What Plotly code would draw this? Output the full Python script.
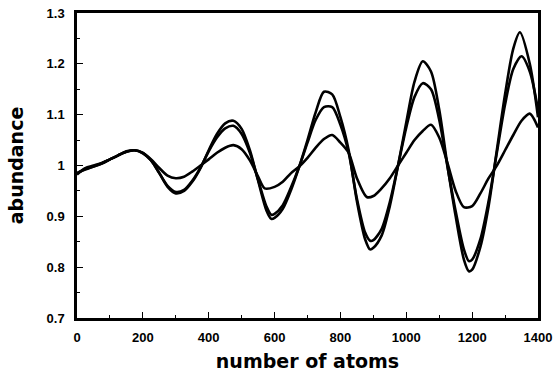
import plotly.graph_objects as go

# number of atoms (sample positions)
atoms_a = [0, 25, 50, 75, 100, 125, 150, 175, 200, 225, 250, 275, 300, 325, 350, 375,
           400, 425, 450, 475, 500, 525, 550, 575, 590, 600, 625, 650, 675, 700, 725,
           750, 775, 800, 825, 850, 875, 890, 900, 925, 950, 975, 1000, 1025, 1050,
           1075, 1100, 1125, 1150, 1175, 1190, 1200, 1225, 1250, 1275, 1300, 1325,
           1345, 1375, 1400]
abund_a = [0.982, 0.995, 1.000, 1.005, 1.012, 1.020, 1.028, 1.030, 1.025, 1.010, 0.985,
           0.958, 0.945, 0.950, 0.968, 0.995, 1.030, 1.062, 1.083, 1.088, 1.072, 1.030,
           0.970, 0.912, 0.895, 0.897, 0.915, 0.952, 0.998, 1.050, 1.105, 1.145, 1.140,
           1.095, 1.030, 0.930, 0.855, 0.835, 0.838, 0.862, 0.920, 1.000, 1.085, 1.165,
           1.205, 1.185, 1.110, 1.000, 0.900, 0.815, 0.792, 0.795, 0.840, 0.920, 1.030,
           1.140, 1.230, 1.262, 1.200, 1.095]

atoms_b = [0, 25, 50, 75, 100, 125, 150, 175, 200, 225, 250, 275, 300, 325, 350, 375,
           400, 425, 450, 475, 500, 525, 550, 575, 590, 600, 625, 650, 675, 700, 725,
           750, 775, 800, 825, 850, 875, 890, 900, 925, 950, 975, 1000, 1025, 1050,
           1075, 1100, 1125, 1150, 1175, 1190, 1200, 1225, 1250, 1275, 1300, 1325,
           1350, 1375, 1400]
abund_b = [0.985, 0.992, 0.998, 1.004, 1.012, 1.020, 1.027, 1.030, 1.024, 1.010, 0.985,
           0.960, 0.948, 0.952, 0.970, 0.996, 1.028, 1.055, 1.073, 1.078, 1.062, 1.025,
           0.972, 0.920, 0.903, 0.905, 0.922, 0.957, 0.998, 1.045, 1.090, 1.115, 1.115,
           1.080, 1.025, 0.935, 0.868, 0.852, 0.853, 0.875, 0.928, 1.000, 1.075, 1.135,
           1.162, 1.150, 1.090, 0.998, 0.910, 0.835, 0.812, 0.815, 0.855, 0.930, 1.025,
           1.120, 1.190, 1.215, 1.185, 1.110]

atoms_c = [0, 25, 50, 75, 100, 125, 150, 175, 200, 225, 250, 275, 300, 325, 350, 375,
           400, 425, 450, 475, 500, 525, 550, 570, 600, 625, 650, 675, 700, 725, 750,
           775, 800, 825, 850, 880, 900, 925, 950, 975, 1000, 1025, 1050, 1075, 1100,
           1125, 1150, 1175, 1200, 1225, 1250, 1275, 1300, 1325, 1350, 1375, 1400]
abund_c = [0.985, 0.993, 0.998, 1.004, 1.012, 1.020, 1.027, 1.030, 1.025, 1.012, 0.995,
           0.980, 0.975, 0.978, 0.988, 1.000, 1.012, 1.025, 1.035, 1.040, 1.032, 1.010,
           0.978, 0.955, 0.958, 0.968, 0.985, 0.998, 1.015, 1.035, 1.052, 1.060, 1.045,
           1.025, 0.975, 0.938, 0.940, 0.955, 0.975, 1.000, 1.025, 1.050, 1.068, 1.080,
           1.055, 1.005, 0.950, 0.918, 0.920, 0.945, 0.975, 1.000, 1.030, 1.060, 1.088,
           1.102, 1.075]

x_ticks = [0, 200, 400, 600, 800, 1000, 1200, 1400]
x_tick_labels = ["0", "200", "400", "600", "800", "1000", "1200", "1400"]
y_ticks = [0.7, 0.8, 0.9, 1.0, 1.1, 1.2, 1.3]
y_tick_labels = ["0.7", "0.8", "0.9", "1", "1.1", "1.2", "1.3"]

fig = go.Figure()
for xs, ys in [(atoms_c, abund_c), (atoms_b, abund_b), (atoms_a, abund_a)]:
    fig.add_trace(go.Scatter(x=xs, y=ys, mode="lines",
                             line=dict(color="black", width=2.6, shape="spline", smoothing=0.8),
                             showlegend=False, hoverinfo="skip"))

tick_font = dict(family="Liberation Sans, Arial, sans-serif", size=13, color="black", weight="bold")
title_font = dict(family="DejaVu Sans, sans-serif", size=19, color="black", weight="bold")

fig.update_layout(
    width=555, height=372,
    margin=dict(l=77, r=17, t=13, b=54),
    paper_bgcolor="white", plot_bgcolor="white",
    xaxis=dict(range=[0, 1400], tickvals=x_ticks, ticktext=x_tick_labels,
               ticks="inside", ticklen=6, tickwidth=1, tickcolor="black",
               minor=dict(ticks="inside", ticklen=3, dtick=100, tick0=0, tickcolor="black"),
               showline=True, linecolor="black", linewidth=2.5, mirror=True,
               showgrid=False, zeroline=False, tickfont=tick_font,
               ticklabelstandoff=6, automargin=False,
               title=dict(text="number of atoms", font=title_font, standoff=14)),
    yaxis=dict(range=[0.7, 1.3], tickvals=y_ticks, ticktext=y_tick_labels,
               ticks="inside", ticklen=6, tickwidth=1, tickcolor="black",
               minor=dict(ticks="inside", ticklen=3, dtick=0.05, tick0=0.7, tickcolor="black"),
               showline=True, linecolor="black", linewidth=2.5, mirror=True,
               showgrid=False, zeroline=False, tickfont=tick_font,
               ticklabelstandoff=7, automargin=False,
               title=dict(text="abundance", font=title_font, standoff=18)),
)

fig.write_html("out.html")
